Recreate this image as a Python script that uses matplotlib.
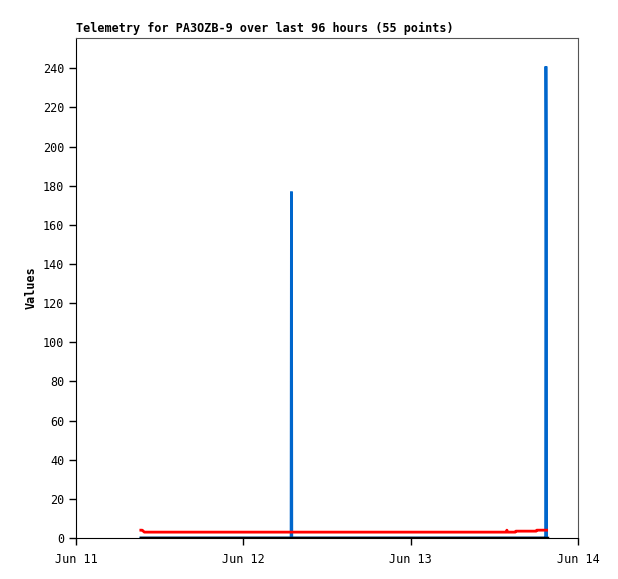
import numpy as np
import matplotlib.pyplot as plt
import matplotlib.dates as mdates
from datetime import datetime, timedelta

plt.rcParams["font.family"] = ["DejaVu Sans Mono"]

# 数据：相对于 Jun 11 00:00 的小时数
start = datetime(2024, 6, 11)
hours = [9.3, 9.5, 9.8, 12, 15, 18, 21, 24, 27, 30.85, 30.9, 30.95, 34, 37, 40, 43,
         46, 49, 52, 55, 58, 61.7, 61.8, 61.9, 63.0, 63.1, 66.0, 66.1, 67.3, 67.35,
         67.4, 67.45, 67.5]
red_vals = [4, 4, 3, 3, 3, 3, 3, 3, 3, 3, 3, 3, 3, 3, 3, 3,
            3, 3, 3, 3, 3, 3, 4, 3, 3, 3.5, 3.5, 4, 4, 4,
            4, 4, 4]
blue_vals = [0, 0, 0, 0, 0, 0, 0, 0, 0, 0, 177, 0, 0, 0, 0, 0,
             0, 0, 0, 0, 0, 0, 0, 0, 0, 0, 0, 0, 0, 0,
             241, 193, 0]
black_vals = [0] * len(hours)

times = [start + timedelta(hours=h) for h in hours]

fig = plt.figure(figsize=(6.18, 5.79), dpi=100)
ax = fig.add_axes([76 / 618, 41 / 579, 502 / 618, 500 / 579])

ax.plot(times, blue_vals, color="#0066cc", lw=2, solid_joinstyle="miter")
ax.plot(times, black_vals, color="black", lw=2.5)
ax.plot(times, red_vals, color="#ff0000", lw=2)

ax.set_xlim(start, start + timedelta(days=3))
ax.set_ylim(0, 255.5)
ax.set_yticks(range(0, 241, 20))
ax.xaxis.set_major_locator(mdates.DayLocator())
ax.xaxis.set_major_formatter(mdates.DateFormatter("%b %d"))

for s in ["top", "right"]:
    ax.spines[s].set_color("#555555")
ax.tick_params(direction="out", length=5, labelsize=8.5, width=1)
ax.tick_params(axis="x", pad=6)

ax.set_ylabel("Values", fontweight="bold", fontsize=8.5)
ax.set_title("Telemetry for PA3OZB-9 over last 96 hours (55 points)",
             loc="left", fontweight="bold", fontsize=8.5, pad=4)

fig.savefig("out.png", dpi=100)
